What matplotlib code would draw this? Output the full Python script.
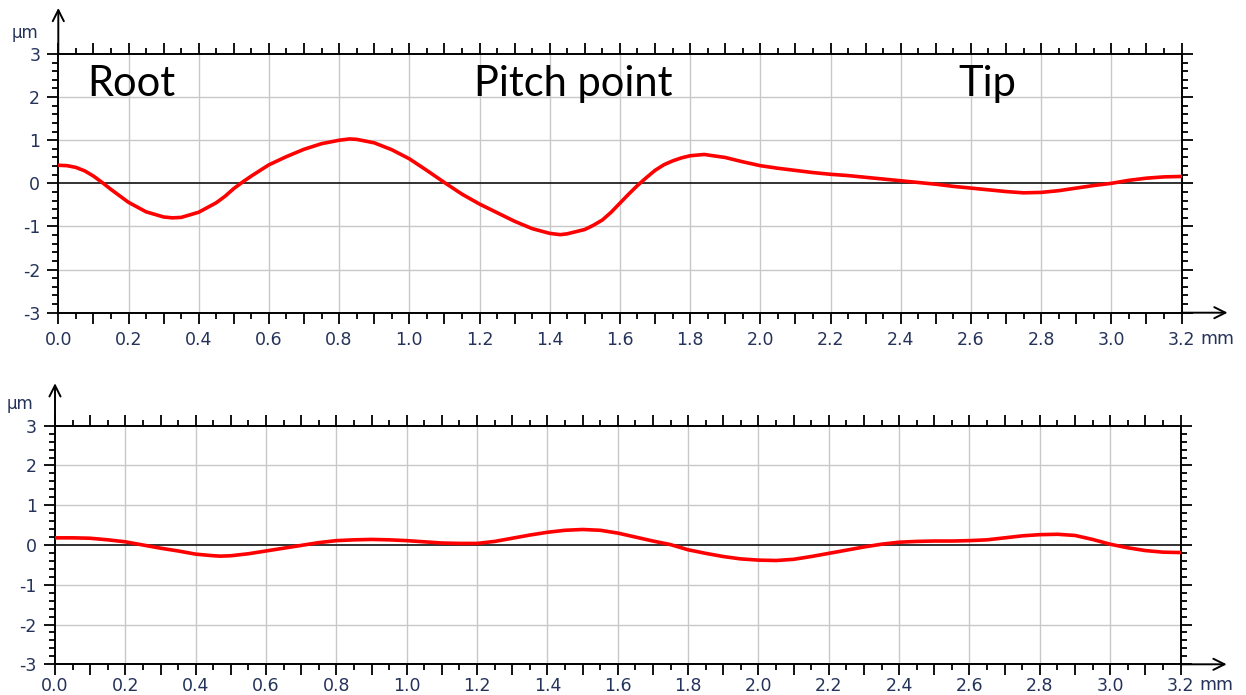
import numpy as np
import matplotlib
matplotlib.use("Agg")
import matplotlib.pyplot as plt
from matplotlib.ticker import MultipleLocator, FuncFormatter

# ---------------- data ----------------
x_top = [0.00, 0.025, 0.05, 0.075, 0.10, 0.125, 0.15, 0.175, 0.20, 0.25, 0.30, 0.325, 0.35,
         0.40, 0.45, 0.475, 0.50, 0.525, 0.55,
         0.60, 0.65, 0.70, 0.75, 0.80, 0.83, 0.85, 0.90, 0.95, 1.00, 1.05, 1.10, 1.15,
         1.20, 1.25, 1.30, 1.35, 1.40, 1.43, 1.45, 1.50, 1.525, 1.55, 1.575, 1.60, 1.625,
         1.65, 1.675, 1.70, 1.725, 1.75, 1.775,
         1.80, 1.84, 1.90, 1.95, 2.00, 2.05, 2.10, 2.15, 2.20, 2.25, 2.30, 2.35, 2.40,
         2.45, 2.50, 2.55, 2.60, 2.65, 2.70, 2.75, 2.80, 2.85, 2.90, 2.95, 3.00, 3.05,
         3.10, 3.15, 3.20]
y_top = [0.42, 0.41, 0.37, 0.29, 0.17, 0.02, -0.14, -0.29, -0.44, -0.66, -0.78, -0.80, -0.79,
         -0.67, -0.45, -0.30, -0.12, 0.03, 0.17,
         0.43, 0.62, 0.79, 0.92, 1.00, 1.03, 1.02, 0.94, 0.78, 0.57, 0.30, 0.02, -0.25,
         -0.48, -0.68, -0.88, -1.05, -1.16, -1.19, -1.17, -1.07, -0.97, -0.85, -0.67, -0.46, -0.25,
         -0.05, 0.13, 0.30, 0.43, 0.52, 0.59,
         0.64, 0.67, 0.60, 0.50, 0.41, 0.35, 0.30, 0.25, 0.21, 0.18, 0.14, 0.10, 0.06,
         0.02, -0.02, -0.07, -0.11, -0.15, -0.19, -0.22, -0.21, -0.17, -0.11, -0.05, 0.00, 0.07,
         0.12, 0.15, 0.16]

x_bot = [0.00, 0.05, 0.10, 0.15, 0.20, 0.25, 0.30, 0.35, 0.40, 0.45, 0.47, 0.50, 0.55,
         0.60, 0.65, 0.70, 0.75, 0.80, 0.85, 0.90, 0.95, 1.00, 1.05, 1.10, 1.15, 1.20,
         1.25, 1.30, 1.35, 1.40, 1.45, 1.50, 1.55, 1.60, 1.65, 1.70, 1.75, 1.80, 1.85,
         1.90, 1.95, 2.00, 2.05, 2.10, 2.15, 2.20, 2.25, 2.30, 2.35, 2.40, 2.45, 2.50,
         2.55, 2.60, 2.65, 2.70, 2.75, 2.80, 2.85, 2.90, 2.95, 3.00, 3.05, 3.10, 3.15, 3.20]
y_bot = [0.18, 0.18, 0.17, 0.13, 0.08, 0.00, -0.08, -0.15, -0.23, -0.27, -0.28, -0.27, -0.22,
         -0.15, -0.08, -0.01, 0.06, 0.11, 0.13, 0.14, 0.13, 0.11, 0.08, 0.05, 0.04, 0.04,
         0.09, 0.17, 0.25, 0.32, 0.37, 0.39, 0.37, 0.30, 0.20, 0.10, 0.01, -0.12, -0.21,
         -0.29, -0.35, -0.38, -0.39, -0.36, -0.29, -0.21, -0.13, -0.05, 0.02, 0.07, 0.09, 0.10,
         0.10, 0.11, 0.13, 0.18, 0.23, 0.26, 0.27, 0.24, 0.14, 0.02, -0.07, -0.14, -0.18, -0.19]

x_grid = [0.2, 0.4, 0.6, 0.8, 1.0, 1.2, 1.4, 1.6, 1.8, 2.0, 2.2, 2.4, 2.6, 2.8, 3.0]
y_grid = [-2, -1, 1, 2]
labels_top = ["Root", "Pitch point", "Tip"]
labels_x = [0.082, 1.185, 2.564]

LABEL_COLOR = "#25335a"
W, H = 1246, 695

fig = plt.figure(figsize=(W / 100, H / 100), dpi=100)


def px_axes(left, top, right, bottom):
    return fig.add_axes([left / W, 1 - bottom / H, (right - left) / W, (bottom - top) / H])


def style(ax, unit_dx, unit_dy, mm_dy, xpad):
    ax.set_xlim(0, 3.2)
    ax.set_ylim(-3, 3)
    for xg in x_grid:
        ax.axvline(xg, color="#c8c8c8", lw=1.0, zorder=0)
    for yg in y_grid:
        ax.axhline(yg, color="#c8c8c8", lw=1.0, zorder=0)
    ax.axhline(0, color="#222222", lw=1.3, zorder=1)
    for s in ax.spines.values():
        s.set_linewidth(1.4)
        s.set_color("black")
    ax.xaxis.set_major_locator(MultipleLocator(0.1))
    ax.xaxis.set_minor_locator(MultipleLocator(0.05))
    ax.xaxis.set_major_formatter(FuncFormatter(
        lambda v, p: f"{v:.1f}" if abs(round(v / 0.2) * 0.2 - v) < 1e-6 else ""))
    ax.yaxis.set_major_locator(MultipleLocator(1))
    ax.yaxis.set_minor_locator(MultipleLocator(0.2))
    ax.yaxis.set_major_formatter(FuncFormatter(lambda v, p: f"{v:.0f}"))
    ax.tick_params(which="both", direction="out", top=True, right=True,
                   labeltop=False, labelright=False, width=1.3, color="black")
    ax.tick_params(which="major", length=8)
    ax.tick_params(which="minor", length=4.5)
    ax.tick_params(axis="x", which="major", pad=xpad, labelsize=12.5, labelcolor=LABEL_COLOR)
    ax.tick_params(axis="y", which="major", pad=5, labelsize=12.5, labelcolor=LABEL_COLOR)
    # axis arrows
    ax.annotate("", xy=(0, 1.178), xytext=(0, 1.0), xycoords="axes fraction",
                arrowprops=dict(arrowstyle="->", lw=1.4, color="black",
                                mutation_scale=20, shrinkA=0, shrinkB=0))
    ax.annotate("", xy=(1.041, 0), xytext=(1.0, 0), xycoords="axes fraction",
                arrowprops=dict(arrowstyle="->", lw=1.4, color="black",
                                mutation_scale=20, shrinkA=0, shrinkB=0))
    ax.annotate("mm", xy=(1, 0), xycoords="axes fraction", xytext=(19, mm_dy),
                textcoords="offset pixels", ha="left", va="center",
                fontsize=12.5, color=LABEL_COLOR)
    ax.annotate("µm", xy=(0, 1), xycoords="axes fraction", xytext=(unit_dx, unit_dy),
                textcoords="offset pixels", ha="right", va="center",
                fontsize=12, color=LABEL_COLOR)


ax1 = px_axes(58.3, 54, 1181.5, 312.7)
style(ax1, -20, 21, -26, 5)
ax1.plot(x_top, y_top, color="#ff0000", lw=2.6, zorder=3,
         solid_capstyle="round", solid_joinstyle="round")
for lab, lx in zip(labels_top, labels_x):
    ax1.text(lx, 2.02, lab, fontsize=30, family="Lato", ha="left", va="baseline", color="black")

ax2 = px_axes(55, 425.7, 1180.5, 664.3)
style(ax2, -22, 22, -21, 1)
ax2.plot(x_bot, y_bot, color="#ff0000", lw=2.6, zorder=3,
         solid_capstyle="round", solid_joinstyle="round")

fig.savefig("out.png", dpi=100)
